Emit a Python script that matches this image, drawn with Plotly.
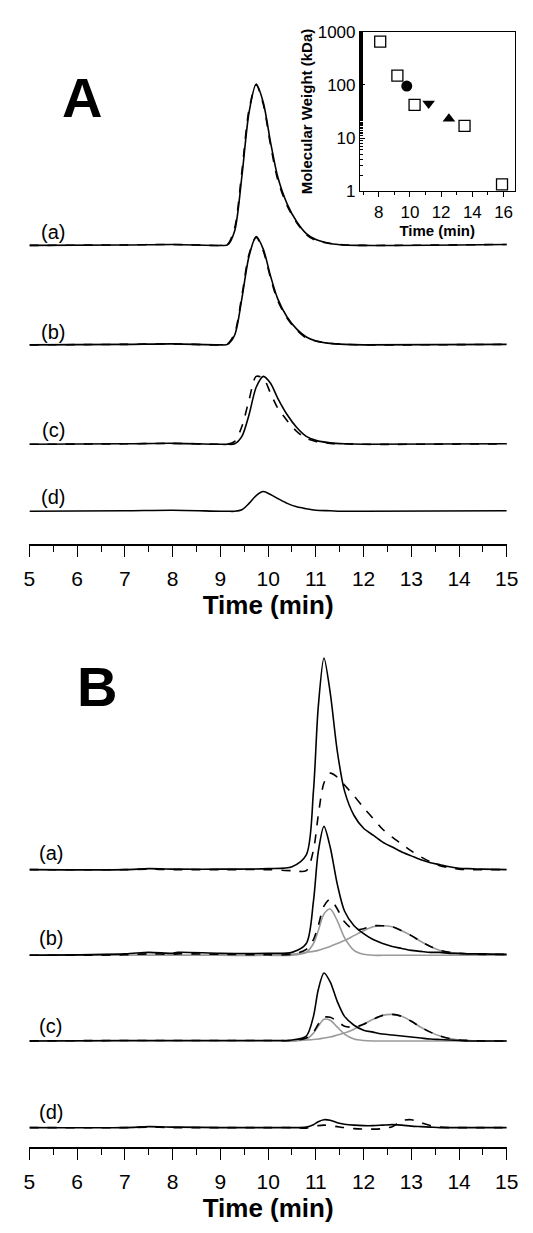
import plotly.graph_objects as go

W, H = 533, 1233

# ---------------- Panel A data (heights above each trace's baseline) ----------------
tA = [5, 7, 8, 9, 9.15, 9.3, 9.45, 9.6, 9.75, 9.9, 10.05, 10.2, 10.4, 10.6, 10.8, 11, 11.3, 11.6, 12, 15]
A_a_solid = [0, 0.5, 1, 0, 0.5, 15, 70, 135, 164, 145, 105, 70, 42, 24, 12, 6, 2, 0.5, 0, 1]
A_a_dash  = [0, 0.5, 1, 0, 1, 18, 75, 138, 163, 143, 102, 67, 40, 23, 11, 5, 2, 0.5, 0, 1]
A_b_solid = [0, 0.5, 1, 0, 0.5, 10, 47, 90, 110, 97, 70, 47, 28, 16, 8, 4, 1.5, 0.5, 0, 0.5]
A_b_dash  = [0, 0.5, 1, 0, 1, 12, 50, 92, 109, 95, 68, 45, 27, 15, 7, 4, 1.5, 0.5, 0, 0.5]
A_c_solid = [0, 0.5, 1, 0, 0, 0.5, 8, 30, 58, 69, 62, 47, 30, 17, 8, 4, 1.5, 0.5, 0, 0.5]
A_c_dash  = [0, 0.5, 1, 0, 0.2, 3, 18, 45, 69, 67, 52, 37, 24, 13, 6, 3, 1, 0.5, 0, 0.5]
A_d_solid = [0, 0.5, 1, 0, 0, 0, 1.5, 8, 16, 20, 17, 13, 8, 4.5, 2.5, 1, 0.5, 0, 0, 0.5]
A_baselines = {"(a)": 303, "(b)": 202, "(c)": 101, "(d)": 33}

# ---------------- Panel B data ----------------
tB = [5, 7, 7.5, 8, 8.1, 9, 10, 10.5, 10.8, 10.95, 11.05, 11.17, 11.3, 11.45, 11.6, 11.8,
      12, 12.2, 12.4, 12.6, 12.8, 13, 13.2, 13.4, 13.6, 13.8, 14, 14.2, 14.5, 15]
B_a_solid = [0, 0, 1, 0.5, 0.5, 0.5, 1, 3, 15, 80, 165, 215, 180, 120, 80, 55, 42, 35, 28, 23, 18, 14, 10, 7, 5, 3, 1.5, 1, 0.5, 0]
B_a_dash  = [0, 0, 0.5, 0, 0, 0, 0, -1, -1, 20, 55, 88, 98, 94, 86, 75, 63, 52, 41, 33, 26, 19, 13, 8, 4, 2, 0.5, 0, 0, 0]
B_b_solid = [0, 1.5, 3, 2, 3, 2, 2, 3, 12, 55, 105, 131, 110, 72, 45, 30, 22, 16, 12, 9, 7, 5, 4, 3, 3, 2, 2, 1.5, 1.5, 1]
B_b_dash  = [0, 0.5, 1.5, 1, 1.5, 1, 0.5, 1, 6, 16, 30, 50, 57, 47, 34, 26, 27, 30, 30, 29, 25, 20, 14, 9, 5, 3, 2, 1.5, 1, 1]
B_b_gray1 = [0, 0, 0, 0, 0, 0, 0, 0, 3, 12, 25, 42, 47, 35, 18, 5, 1, 0, 0, 0, 0, 0, 0, 0, 0, 0, 0, 0, 0, 0]
B_b_gray2 = [0, 0, 0, 0, 0, 0, 0, 1, 3, 4, 5, 7, 9, 12, 15, 20, 25, 29, 30, 29, 25, 20, 14, 9, 5, 3, 1.5, 0.7, 0.3, 0]
B_c_solid = [0, 0.5, 0.5, 0.5, 0.5, 0.5, 0.5, 1, 5, 25, 52, 69, 60, 40, 25, 16, 11, 9, 7, 6, 5, 4, 3, 2, 1.5, 1, 0.5, 0, 0, 0]
B_c_dash  = [0, 0.5, 0.5, 0.5, 0.5, 0.5, 0.5, 0.5, 3, 9, 17, 24, 24, 20, 15, 14, 17, 22, 26, 27, 25, 20, 14, 9, 5, 2.5, 1, 0.5, 0, 0]
B_c_gray1 = [0, 0, 0, 0, 0, 0, 0, 0, 2, 8, 15, 22, 21, 14, 7, 2, 0.5, 0, 0, 0, 0, 0, 0, 0, 0, 0, 0, 0, 0, 0]
B_c_gray2 = [0, 0, 0, 0, 0, 0, 0, 0, 1, 1.5, 2, 3, 4, 6, 8, 12, 17, 22, 26, 27, 25, 20, 14, 9, 5, 2.5, 1, 0.5, 0, 0]
B_d_solid = [0, 0, 1, 0.5, 0.5, 0, 0, 0, 0.5, 3, 6, 8, 7.5, 5, 3.5, 2.5, 2, 2, 2.5, 3, 2.5, 1.5, 1, 0.5, 0, 0, 0, 0, 0, 0]
B_d_dash  = [0, 0, 0.5, 0, 0, 0, 0, 0, -0.5, 1, 2, 2.5, 2, 1, 0, -1, -1.5, -1.5, -1, 1, 7, 8, 5, 2, 0.5, 0, 0, 0, 0, 0]
B_baselines = {"(a)": 282, "(b)": 195, "(c)": 108, "(d)": 20}

# ---------------- Inset data ----------------
std_time = [8.1, 9.2, 10.3, 13.5, 15.9]
std_mw = [650, 150, 42, 17, 1.35]
circ_time, circ_mw = [9.8], [95]
down_time, down_mw = [11.2], [45]
up_time, up_mw = [12.5], [23]

fig = go.Figure()

def add(t, vals, base, xa, ya, dash="solid", color="black", width=1.6):
    fig.add_trace(go.Scatter(x=t, y=[v + base for v in vals], mode="lines",
                             line=dict(color=color, width=width, dash=dash, shape="spline", smoothing=0.8),
                             xaxis=xa, yaxis=ya, showlegend=False, hoverinfo="skip"))

bA = A_baselines
add(tA, A_a_dash, bA["(a)"], "x", "y", "dash")
add(tA, A_a_solid, bA["(a)"], "x", "y")
add(tA, A_b_dash, bA["(b)"], "x", "y", "dash")
add(tA, A_b_solid, bA["(b)"], "x", "y")
add(tA, A_c_dash, bA["(c)"], "x", "y", "dash")
add(tA, A_c_solid, bA["(c)"], "x", "y")
add(tA, A_d_solid, bA["(d)"], "x", "y")

bB = B_baselines
gray = "#9a9a9a"
add(tB, B_a_dash, bB["(a)"], "x2", "y2", "dash")
add(tB, B_a_solid, bB["(a)"], "x2", "y2")
add(tB, B_b_gray1, bB["(b)"], "x2", "y2", color=gray)
add(tB, B_b_gray2, bB["(b)"], "x2", "y2", color=gray)
add(tB, B_b_dash, bB["(b)"], "x2", "y2", "dash")
add(tB, B_b_solid, bB["(b)"], "x2", "y2")
add(tB, B_c_gray1, bB["(c)"], "x2", "y2", color=gray)
add(tB, B_c_gray2, bB["(c)"], "x2", "y2", color=gray)
add(tB, B_c_dash, bB["(c)"], "x2", "y2", "dash")
add(tB, B_c_solid, bB["(c)"], "x2", "y2")
add(tB, B_d_dash, bB["(d)"], "x2", "y2", "dash")
add(tB, B_d_solid, bB["(d)"], "x2", "y2")

mk = dict(xaxis="x3", yaxis="y3", mode="markers", showlegend=False, hoverinfo="skip")
fig.add_trace(go.Scatter(x=std_time, y=std_mw, marker=dict(symbol="square-open", size=11, color="black", line=dict(width=1.3)), **mk))
fig.add_trace(go.Scatter(x=circ_time, y=circ_mw, marker=dict(symbol="circle", size=11, color="black"), **mk))
fig.add_trace(go.Scatter(x=down_time, y=down_mw, marker=dict(symbol="triangle-down", size=11, color="black"), **mk))
fig.add_trace(go.Scatter(x=up_time, y=up_mw, marker=dict(symbol="triangle-up", size=11, color="black"), **mk))

font = dict(family="Liberation Sans, Arial", color="black")
xdom = [16 / W, 510 / W]
xcommon = dict(range=[5, 15], dtick=1, tick0=5, showline=True, linecolor="black", linewidth=1.5,
               ticks="outside", ticklen=11, tickwidth=1.3, tickcolor="black", showgrid=False, zeroline=False,
               tickfont=dict(size=21, **font), ticklabelstandoff=4,
               minor=dict(dtick=0.5, tick0=5, ticks="outside", ticklen=6, tickwidth=1.2, tickcolor="black", showgrid=False),
               title=dict(text="<b>Time (min)</b>", font=dict(size=26, **font), standoff=2))
yA_axis = 535
yB_axis = 1148
fig.update_layout(
    width=W, height=H, margin=dict(l=0, r=0, t=0, b=0),
    paper_bgcolor="white", plot_bgcolor="rgba(0,0,0,0)",
    xaxis=dict(domain=xdom, anchor="y", **xcommon),
    yaxis=dict(domain=[1 - yA_axis / H, 1], range=[0, yA_axis], visible=False),
    xaxis2=dict(domain=xdom, anchor="y2", **xcommon),
    yaxis2=dict(domain=[1 - yB_axis / H, 1 - 615 / H], range=[0, yB_axis - 615], visible=False),
    xaxis3=dict(domain=[358 / W, 518 / W], anchor="y3", range=[6.8, 16.7], tickvals=[8, 10, 12, 14, 16],
                showline=True, mirror=True, linecolor="black", linewidth=1, ticks="outside", ticklen=5,
                tickcolor="black", showgrid=False, zeroline=False, tickfont=dict(size=17, **font),
                minor=dict(tickvals=[7, 9, 11, 13, 15], ticks="outside", ticklen=3, tickcolor="black", showgrid=False),
                title=dict(text="<b>Time (min)</b>", font=dict(size=15, **font), standoff=1)),
    yaxis3=dict(domain=[1 - 177 / H, 1 - 15 / H], anchor="x3", type="log", range=[0, 3],
                tickvals=[1, 10, 100, 1000], showline=True, mirror=True, linecolor="black", linewidth=1,
                ticks="inside", ticklen=5, tickcolor="black", showgrid=False, zeroline=False,
                tickfont=dict(size=17, **font),
                minor=dict(ticks="inside", ticklen=3, tickcolor="black", showgrid=False),
                title=dict(text="<b>Molecular Weight (kDa)</b>", font=dict(size=15, **font), standoff=1)),
)

ann = []
for lab, off in zip(["(a)", "(b)", "(c)", "(d)"], [14, 13, 15, 15]):
    ann.append(dict(x=5.5, y=bA[lab] + off, xref="x", yref="y", text=lab, showarrow=False, font=dict(size=20, **font)))
for lab, off in zip(["(a)", "(b)", "(c)", "(d)"], [17, 18, 15, 16]):
    ann.append(dict(x=5.45, y=bB[lab] + off, xref="x2", yref="y2", text=lab, showarrow=False, font=dict(size=20, **font)))
ann.append(dict(x=48 / W, y=1 - 48 / H, xref="paper", yref="paper", text="<b>A</b>", showarrow=False,
                font=dict(size=56, **font)))
ann.append(dict(x=63 / W, y=1 - 680 / H, xref="paper", yref="paper", text="<b>B</b>", showarrow=False,
                font=dict(size=56, **font)))
fig.update_layout(annotations=ann)

fig.write_html("out.html")
